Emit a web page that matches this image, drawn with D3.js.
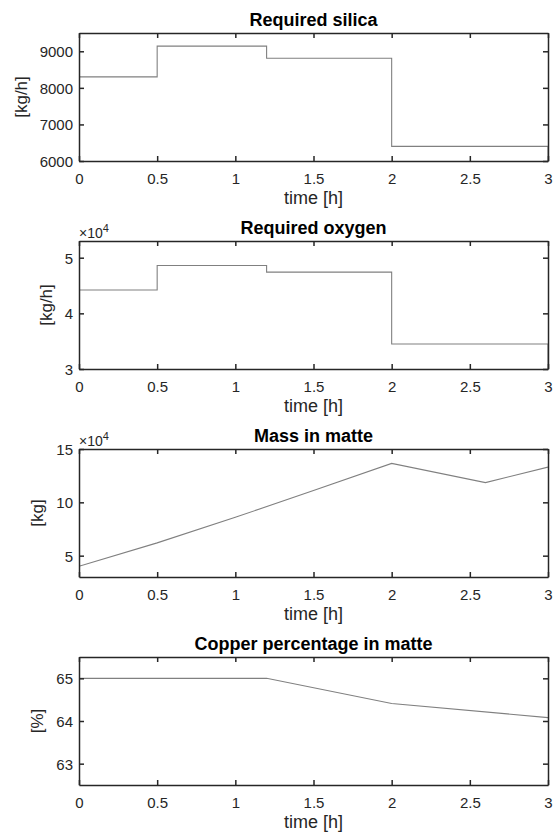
<!DOCTYPE html>
<html>
<head>
<meta charset="utf-8">
<script src="https://cdn.jsdelivr.net/npm/d3@7"></script>
<style>
  body { margin: 0; background: #fff; }
  svg { display: block; font-family: "Liberation Sans", Arial, Helvetica, sans-serif; }
  .axis path, .axis line { stroke: #262626; stroke-width: 1.5; }
  .axis text { fill: #262626; font-size: 15px; }
</style>
</head>
<body>
<svg width="557" height="834"></svg>
<script>
// time axis shared by all four panels
var timeTicks = [0, 0.5, 1, 1.5, 2, 2.5, 3];

// required silica [kg/h], staircase
var silicaTime = [0, 0.5, 1.2, 2, 3, 3];
var silicaValues = [8300, 9140, 8810, 6400, 6400, 0];
var silicaTicks = [6000, 7000, 8000, 9000];

// required oxygen [kg/h], staircase
var oxygenTime = [0, 0.5, 1.2, 2, 3, 3];
var oxygenValues = [44200, 48600, 47400, 34500, 34500, 0];
var oxygenTicks = [30000, 40000, 50000];

// mass in matte [kg]
var massTime = [0, 0.5, 1, 1.5, 2, 2.6, 3];
var massValues = [40000, 62000, 86000, 111000, 136500, 118500, 133000];
var massTicks = [50000, 100000, 150000];

// copper percentage in matte [%]
var copperTime = [0, 1.2, 2, 3];
var copperValues = [65, 65, 64.41, 64.08];
var copperTicks = [63, 64, 65];

var panels = [
  {title: "Required silica", ylabel: "[kg/h]", t: silicaTime, v: silicaValues, ticks: silicaTicks,
   domain: [6000, 9500], step: true, fmt: function(d) { return d; }, exp: false},
  {title: "Required oxygen", ylabel: "[kg/h]", t: oxygenTime, v: oxygenValues, ticks: oxygenTicks,
   domain: [30000, 53000], step: true, fmt: function(d) { return d / 1e4; }, exp: true},
  {title: "Mass in matte", ylabel: "[kg]", t: massTime, v: massValues, ticks: massTicks,
   domain: [30000, 150000], step: false, fmt: function(d) { return d / 1e4; }, exp: true},
  {title: "Copper percentage in matte", ylabel: "[%]", t: copperTime, v: copperValues, ticks: copperTicks,
   domain: [62.5, 65.5], step: false, fmt: function(d) { return d; }, exp: false}
];

var svg = d3.select("svg"),
    left = 79, right = 548,
    plotH = 128, firstTop = 33, gap = 208;

var x = d3.scaleLinear().domain([0, 3]).range([left, right]);

panels.forEach(function(p, i) {
  var top = firstTop + i * gap,
      bottom = top + plotH;
  var y = d3.scaleLinear().domain(p.domain).range([bottom, top]);

  var g = svg.append("g");

  g.append("clipPath").attr("id", "clip" + i)
    .append("rect")
    .attr("x", left).attr("y", top)
    .attr("width", right - left).attr("height", plotH);

  var line = d3.line()
    .x(function(d) { return x(d[0]); })
    .y(function(d) { return y(d[1]); })
    .curve(p.step ? d3.curveStepAfter : d3.curveLinear);

  g.append("path")
    .datum(d3.zip(p.t, p.v))
    .attr("clip-path", "url(#clip" + i + ")")
    .attr("fill", "none")
    .attr("stroke", "#808080")
    .attr("stroke-width", 1.1)
    .attr("d", line);

  // axes: inward ticks on all four sides
  var xAxis = g.append("g").attr("class", "axis")
    .attr("transform", "translate(0," + bottom + ")")
    .call(d3.axisBottom(x).tickValues(timeTicks).tickSizeInner(-5).tickSizeOuter(0)
      .tickPadding(12).tickFormat(function(d) { return d; }));
  g.append("g").attr("class", "axis")
    .attr("transform", "translate(0," + top + ")")
    .call(d3.axisTop(x).tickValues(timeTicks).tickSizeInner(-5).tickSizeOuter(0).tickFormat(""));
  var yAxis = g.append("g").attr("class", "axis")
    .attr("transform", "translate(" + left + ",0)")
    .call(d3.axisLeft(y).tickValues(p.ticks).tickSizeInner(-5).tickSizeOuter(0)
      .tickPadding(6).tickFormat(p.fmt));
  g.append("g").attr("class", "axis")
    .attr("transform", "translate(" + right + ",0)")
    .call(d3.axisRight(y).tickValues(p.ticks).tickSizeInner(-5).tickSizeOuter(0).tickFormat(""));

  xAxis.selectAll("text").attr("dy", "0.71em");
  yAxis.selectAll("text").attr("dy", "0.36em");

  g.append("text")
    .attr("x", (left + right) / 2)
    .attr("y", top - 7)
    .attr("text-anchor", "middle")
    .attr("font-size", "18px")
    .attr("font-weight", "bold")
    .attr("fill", "#000")
    .text(p.title);

  g.append("text")
    .attr("x", (left + right) / 2)
    .attr("y", bottom + 43)
    .attr("text-anchor", "middle")
    .attr("font-size", "18px")
    .attr("fill", "#262626")
    .text("time [h]");

  var labW = d3.max(yAxis.selectAll("text").nodes(), function(n) { return n.getBBox().width; });
  var lx = left - 6 - labW - 13;
  g.append("text")
    .attr("transform", "translate(" + lx + "," + (top + bottom) / 2 + ") rotate(-90)")
    .attr("text-anchor", "middle")
    .attr("font-size", "17px")
    .attr("fill", "#262626")
    .text(p.ylabel);

  if (p.exp) {
    var e = g.append("text")
      .attr("x", left)
      .attr("y", top - 3)
      .attr("font-size", "14px")
      .attr("fill", "#262626");
    e.append("tspan").text("\u00d710");
    e.append("tspan").attr("dy", "-6").attr("font-size", "11px").text("4");
  }
});
</script>
</body>
</html>
